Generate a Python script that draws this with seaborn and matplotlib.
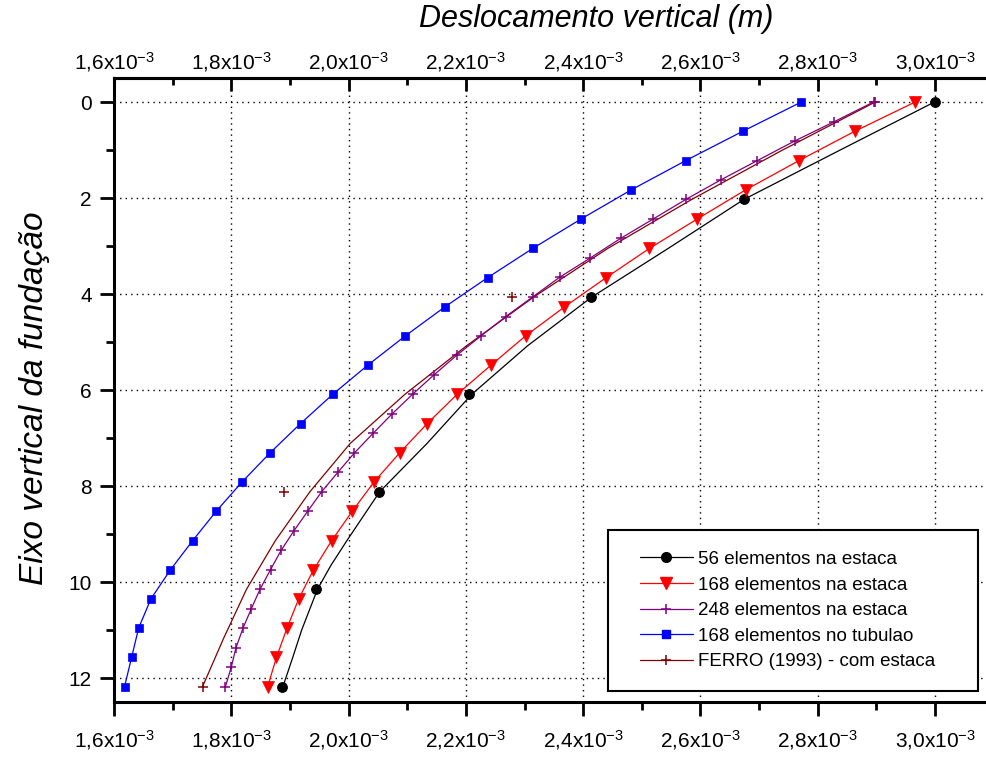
import numpy as np
import pandas as pd
import matplotlib
matplotlib.use("Agg")
import matplotlib.pyplot as plt
from matplotlib.lines import Line2D
from matplotlib.patches import Rectangle
from matplotlib.ticker import FuncFormatter, FixedLocator
import seaborn as sns

# ---------------- data (x in 1e-3 m, y depth in m) ----------------
# 56 elementos na estaca: markers and curve
y56_pts = [0.0, 2.03, 4.06, 6.09, 8.12, 10.15, 12.18]
x56_pts = [2.999, 2.674, 2.413, 2.206, 2.051, 1.944, 1.886]
y56_line = [0.0, 1.02, 2.03, 3.05, 4.06, 5.08, 6.09, 7.11, 8.12, 9.14, 9.65, 10.15, 11.0,
            11.6, 12.18]
x56_line = [2.999, 2.835, 2.674, 2.545, 2.415, 2.305, 2.210, 2.134, 2.053, 1.997, 1.970,
            1.947, 1.920, 1.904, 1.888]

# 168 elementos na estaca
y168 = [0.0, 0.61, 1.22, 1.83, 2.44, 3.05, 3.66, 4.27, 4.87, 5.48, 6.09, 6.70, 7.31, 7.92,
        8.53, 9.14, 9.75, 10.35, 10.96, 11.57, 12.18]
x168 = [2.966, 2.863, 2.768, 2.677, 2.594, 2.513, 2.439, 2.368, 2.302, 2.243, 2.185, 2.134,
        2.087, 2.043, 2.006, 1.971, 1.940, 1.915, 1.895, 1.877, 1.862]

# 248 elementos na estaca
y248 = [0.0, 0.41, 0.81, 1.22, 1.62, 2.03, 2.44, 2.84, 3.25, 3.65, 4.06, 4.47, 4.87, 5.28,
        5.68, 6.09, 6.50, 6.90, 7.31, 7.71, 8.12, 8.53, 8.93, 9.34, 9.74, 10.15, 10.56,
        10.96, 11.37, 11.77, 12.18]
x248 = [2.895, 2.828, 2.761, 2.697, 2.635, 2.575, 2.519, 2.464, 2.412, 2.360, 2.314, 2.268,
        2.226, 2.184, 2.146, 2.109, 2.074, 2.042, 2.010, 1.982, 1.954, 1.930, 1.907, 1.885,
        1.867, 1.849, 1.834, 1.820, 1.808, 1.800, 1.790]

# 168 elementos no tubulao
ytub = y168
xtub = [2.772, 2.672, 2.575, 2.482, 2.396, 2.314, 2.237, 2.164, 2.097, 2.033, 1.973, 1.918,
        1.866, 1.818, 1.774, 1.734, 1.696, 1.663, 1.642, 1.630, 1.618]

# FERRO (1993) - com estaca: markers and curve
yferro_pts = [0.0, 4.06, 8.12, 12.18]
xferro_pts = [2.898, 2.279, 1.890, 1.751]
yferro_line = [0.0, 1.02, 2.03, 3.05, 4.06, 5.08, 6.09, 7.11, 8.12, 9.14, 10.15, 11.17, 12.18]
xferro_line = [2.898, 2.737, 2.585, 2.442, 2.316, 2.201, 2.096, 2.003, 1.934, 1.875,
               1.826, 1.787, 1.751]

labels = ["56 elementos na estaca", "168 elementos na estaca", "248 elementos na estaca",
          "168 elementos no tubulao", "FERRO (1993) - com estaca"]
xticks_major = [1.6, 1.8, 2.0, 2.2, 2.4, 2.6, 2.8, 3.0]
xticks_minor = [1.7, 1.9, 2.1, 2.3, 2.5, 2.7, 2.9]
yticks_major = [0, 2, 4, 6, 8, 10, 12]
yticks_minor = [1, 3, 5, 7, 9, 11]

# ---------------- style ----------------
sns.set_theme(style="white")
plt.rcParams['font.family'] = ['Liberation Sans', 'DejaVu Sans']
plt.rcParams['mathtext.fontset'] = 'custom'
plt.rcParams['mathtext.rm'] = 'Liberation Sans'
plt.rcParams['mathtext.it'] = 'Liberation Sans:italic'
for k in ['text.color', 'axes.labelcolor', 'xtick.color', 'ytick.color', 'axes.edgecolor']:
    plt.rcParams[k] = 'black'

C_BLACK = "#000000"
C_RED = "#FF0000"
C_PURPLE = "#800080"
C_BLUE = "#0000FF"
C_BROWN = "#800000"
LW = 0.9

W, H = 986, 759
fig = plt.figure(figsize=(W / 100, H / 100), dpi=100)
ax_left, ax_right, ax_top, ax_bot = 114, 986, 78, 702
ax = fig.add_axes([ax_left / W, (H - ax_bot) / H, (ax_right - ax_left) / W, (ax_bot - ax_top) / H])

def s(x):
    return np.array(x) * 1e-3

sns.lineplot(x=s(x56_line), y=y56_line, sort=False, color=C_BLACK, lw=LW, ax=ax, estimator=None)
sns.lineplot(x=s(x56_pts), y=y56_pts, sort=False, color=C_BLACK, lw=0, marker='o', ms=7,
             mec=C_BLACK, ax=ax, estimator=None)
sns.lineplot(x=s(x168), y=y168, sort=False, color=C_RED, lw=LW, marker='v', ms=8.5,
             mec=C_RED, mew=0.5, ax=ax, estimator=None)
sns.lineplot(x=s(xferro_line), y=yferro_line, sort=False, color=C_BROWN, lw=LW, ax=ax, estimator=None)
sns.lineplot(x=s(xferro_pts), y=yferro_pts, sort=False, color=C_BROWN, lw=0, marker='+', ms=7,
             mec=C_BROWN, mew=1.1, ax=ax, estimator=None)
sns.lineplot(x=s(x248), y=y248, sort=False, color=C_PURPLE, lw=LW, marker='+', ms=7,
             mec=C_PURPLE, mew=1.1, ax=ax, estimator=None)
sns.lineplot(x=s(xtub), y=ytub, sort=False, color=C_BLUE, lw=LW, marker='s', ms=6,
             mec=C_BLUE, mew=0.5, ax=ax, estimator=None)

ax.set_xlim(1.6e-3, 3.0868e-3)
ax.set_ylim(12.5, -0.5)

def fmt(v, pos):
    m = v * 1e3
    a, b = f"{m:.1f}".split('.')
    return r'$\mathregular{' + a + '{,}' + b + r'x10^{-3}}$'

ax.xaxis.set_major_locator(FixedLocator(s(xticks_major)))
ax.xaxis.set_minor_locator(FixedLocator(s(xticks_minor)))
ax.xaxis.set_major_formatter(FuncFormatter(fmt))
ax.yaxis.set_major_locator(FixedLocator(yticks_major))
ax.yaxis.set_minor_locator(FixedLocator(yticks_minor))

ax.grid(True, which='major', color='black', linestyle=(0, (1, 3)), lw=1.0)
ax.spines['right'].set_visible(False)
for sp in ['left', 'bottom', 'top']:
    ax.spines[sp].set_visible(True)
    ax.spines[sp].set_color('black')
    ax.spines[sp].set_linewidth(2.2)

ax.tick_params(axis='both', which='major', direction='out', length=10, width=2,
               labelsize=15, color='black', labelcolor='black', bottom=True, left=True, pad=6)
ax.tick_params(axis='x', which='major', pad=9)
ax.tick_params(axis='both', which='minor', direction='out', length=5.5, width=2,
               color='black', bottom=True, left=True)

secax = ax.secondary_xaxis('top')
secax.xaxis.set_major_locator(FixedLocator(s(xticks_major)))
secax.xaxis.set_minor_locator(FixedLocator(s(xticks_minor)))
secax.xaxis.set_major_formatter(FuncFormatter(fmt))
secax.spines['top'].set_linewidth(2.2)
secax.tick_params(axis='x', which='major', direction='in', length=9, width=2, labelsize=15,
                  pad=3, colors='black')
secax.tick_params(axis='x', which='minor', direction='in', length=5, width=2, colors='black')

# axis title on top (centred as in the reference)
fig.text(596 / W, 1 - 19 / H, "Deslocamento vertical (m)", fontsize=22, style='italic',
         ha='center', va='center')

ax.set_xlabel("")
ax.set_ylabel("Eixo vertical da fundação", fontsize=24, style='italic')
ax.yaxis.set_label_coords(-(ax_left - 35) / (ax_right - ax_left), (ax_bot - 398) / (ax_bot - ax_top))
ax.yaxis.label.set_va('center')

# legend: frame drawn as a rectangle, entries placed inside
handles = [
    Line2D([], [], color=C_BLACK, lw=LW, marker='o', ms=7),
    Line2D([], [], color=C_RED, lw=LW, marker='v', ms=8.5),
    Line2D([], [], color=C_PURPLE, lw=LW, marker='+', ms=7, mew=1.1),
    Line2D([], [], color=C_BLUE, lw=LW, marker='s', ms=6),
    Line2D([], [], color=C_BROWN, lw=LW, marker='+', ms=7, mew=1.1),
]
bx0, by0, bx1, by1 = 608, 530, 978, 691
fig.patches.append(Rectangle((bx0 / W, (H - by1) / H), (bx1 - bx0) / W, (by1 - by0) / H,
                             transform=fig.transFigure, fill=True, facecolor='white',
                             edgecolor='black', lw=1.5, zorder=5))
leg = fig.legend(handles, labels, loc='center left',
                 bbox_to_anchor=(640 / W, (H - (by0 + by1) / 2) / H),
                 fontsize=13.5, frameon=False, handlelength=2.8, handletextpad=0.3,
                 borderpad=0, labelspacing=0.45, borderaxespad=0)
leg.set_zorder(6)

fig.savefig("out.png", dpi=100)
